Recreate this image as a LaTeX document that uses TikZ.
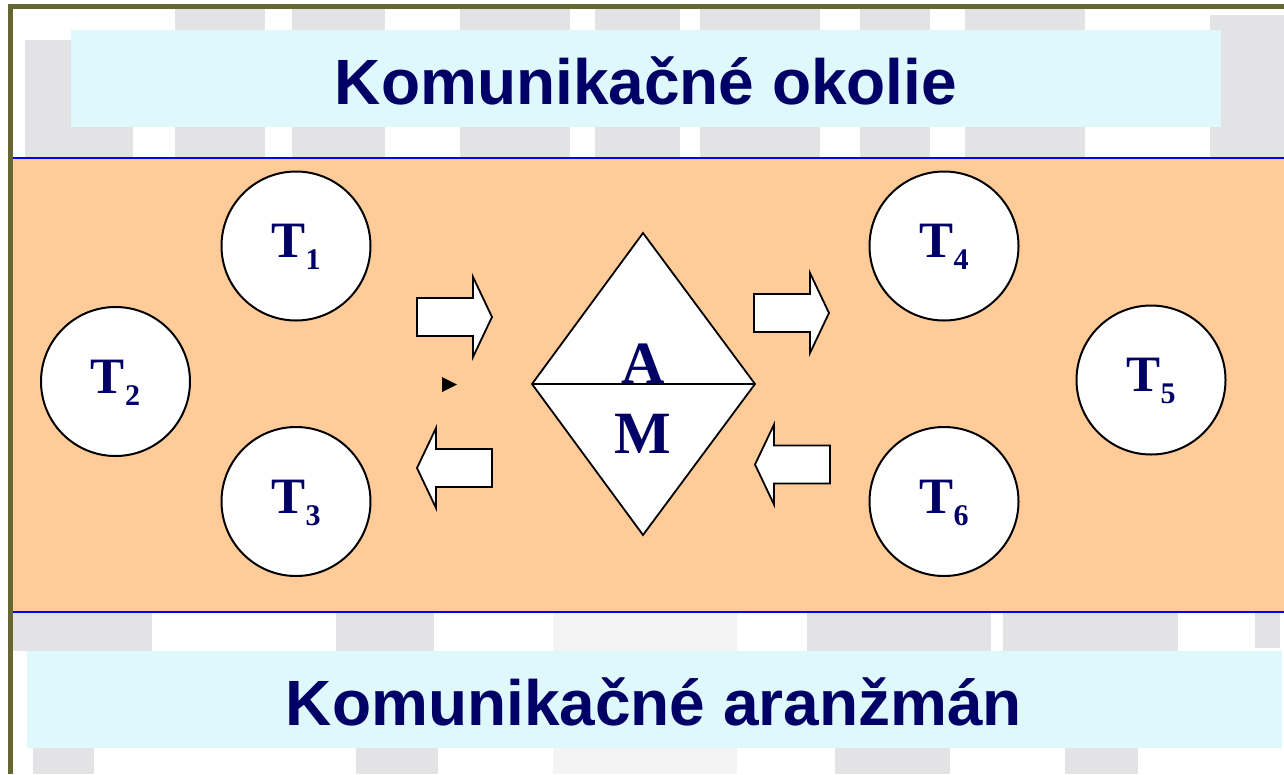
\documentclass[tikz,border=0pt]{standalone}
\usepackage{fontspec}
\setmainfont{Liberation Serif}
\newfontfamily\headfont{Liberation Sans}
\usetikzlibrary{positioning, shapes.geometric, calc}
\definecolor{kmnavy}{HTML}{000066}
\definecolor{kmcyan}{HTML}{DFF8FC}
\definecolor{kmorange}{HTML}{FFCC99}
\definecolor{kmolive}{HTML}{666633}
\definecolor{kmblue}{HTML}{0000FF}
\definecolor{kmgrey}{HTML}{E3E3E5}
\newcommand{\tsub}[1]{T\raisebox{-12pt}{\fontsize{30}{32}\selectfont #1}}

\begin{document}
\begin{tikzpicture}[x=1pt, y=-1pt,
          headbox/.style={fill=kmcyan, text=kmnavy, inner sep=0pt, minimum height=97pt, text height=52pt, text depth=0pt, font=\headfont\bfseries\fontsize{64}{70}\selectfont},
          term/.style={circle, draw=black, line width=2pt, fill=white, minimum size=149pt, inner sep=0pt, text=kmnavy, text height=23pt, text depth=0pt, font=\bfseries\fontsize{51}{56}\selectfont},
          letter/.style={text=kmnavy, inner sep=0pt, font=\bfseries\fontsize{60}{64}\selectfont},
          blockarr/.pic={\draw[line width=1.8pt, fill=white] (0,-19) -- (56,-19) -- (56,-40) -- (75,0) -- (56,40) -- (56,19) -- (0,19) -- cycle;}]
        \useasboundingbox (0,0) rectangle (1284,774);
        \fill[white] (0,0) rectangle (1284,774);
        % watermark
        \foreach \xa/\xb/\ya in {25/133/40, 175/265/8, 292/385/8, 460/570/8, 595/680/8, 700/820/8, 860/930/8, 965/1085/8, 1210/1284/15}
          \fill[kmgrey] (\xa,\ya) rectangle (\xb,157);
        \foreach \xa/\xb/\ya/\yb in {13/152/613/651, 336/434/613/651, 807/991/613/651, 1003/1178/613/651, 1255/1280/613/648, 33/94/747/774, 356/438/747/774, 835/950/747/774, 1065/1138/747/774}
          \fill[kmgrey] (\xa,\ya) rectangle (\xb,\yb);
        \fill[kmgrey!40] (553,613) rectangle (737,774);
        % frame
        \draw[kmolive, line width=5pt] (10.5,774) -- (10.5,6.5) -- (1284,6.5);
        % title boxes
        \node[headbox, minimum width=1150pt] (envbox) at (646,78.5) {Komunikačné okolie};
        \node[headbox, minimum width=1255pt] (arrbox) at (654,699) {Komunikačné aranžmán};
        % band
        \fill[kmorange] (13,158) rectangle (1284,612);
        \draw[kmblue, line width=2pt] (13,158) -- (1284,158);
        \draw[kmblue, line width=2pt] (13,612) -- (1284,612);
        % terminals
        \node[term] (t1) at (296,246) {\tsub{1}};
        \node[term] (t2) at (115.5,381.5) {\tsub{2}};
        \node[term] (t3) at (296,501.5) {\tsub{3}};
        \node[term] (t4) at (944,246) {\tsub{4}};
        \node[term] (t5) at (1151,380) {\tsub{5}};
        \node[term] (t6) at (944,501.5) {\tsub{6}};
        % AM diamond
        \coordinate (dtop) at (643,233);
        \coordinate (dleft) at (532,384);
        \coordinate (dright) at (755,384);
        \coordinate (dbot) at (643,535);
        \draw[line width=1.8pt, fill=white] (dtop) -- (dright) -- (dbot) -- (dleft) -- cycle;
        \draw[line width=1.8pt] (dleft) -- (dright);
        \node[letter, anchor=base] (a) at (643,383) {A};
        \node[letter, anchor=base] (m) at (643,453) {M};
        % block arrows
        \pic at (417,317) {blockarr};
        \pic[xscale=-1] at (492,468) {blockarr};
        \pic at (754,313) {blockarr};
        \pic[xscale=-1] at (830,464.5) {blockarr};
        \fill[black] (442,377) -- (457,384.5) -- (442,392) -- cycle;
      \end{tikzpicture}
\end{document}
